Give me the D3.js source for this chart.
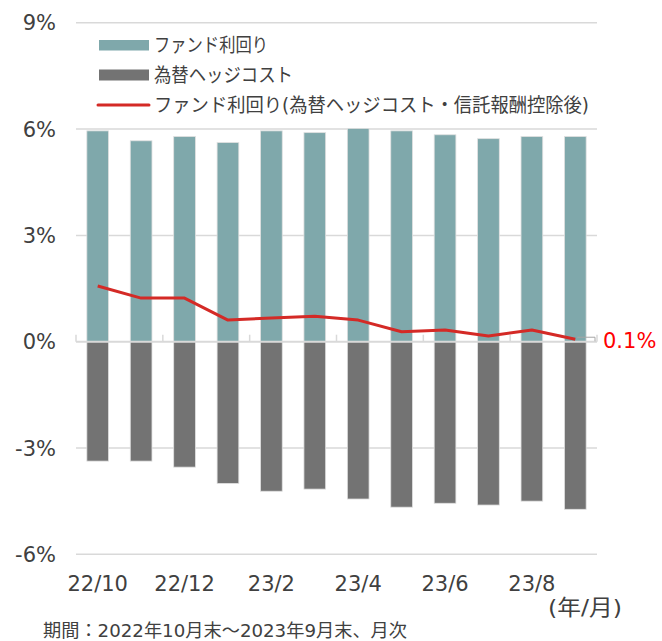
<!DOCTYPE html>
<html><head><meta charset="utf-8">
<script src="https://cdn.jsdelivr.net/npm/d3@7"></script>
<style>
html,body{margin:0;padding:0;background:#fff;}
svg{display:block;}
text{font-family:"DejaVu Sans","Noto Sans CJK JP",sans-serif;}
</style></head>
<body>
<script>
const categories = ["22/10","22/11","22/12","23/1","23/2","23/3","23/4","23/5","23/6","23/7","23/8","23/9"];
const fundYield = [5.95,5.67,5.79,5.62,5.95,5.90,6.02,5.95,5.84,5.73,5.79,5.79];
const hedgeCost = [-3.37,-3.37,-3.54,-4.00,-4.22,-4.16,-4.44,-4.67,-4.56,-4.61,-4.50,-4.73];
const netYield = [1.57,1.23,1.23,0.61,0.67,0.72,0.61,0.28,0.33,0.16,0.33,0.07];
const yTicks = [-6,-3,0,3,6,9];
const xTickLabels = ["22/10","22/12","23/2","23/4","23/6","23/8"];
const legendLabels = ["ファンド利回り","為替ヘッジコスト","ファンド利回り(為替ヘッジコスト・信託報酬控除後)"];
const lastLabel = "0.1%";
const unitLabel = "(年/月)";
const noteText = "期間：2022年10月末～2023年9月末、月次";

(function(){
const W = 662, H = 641;
const pLeft = 76, pRight = 597, pTop = 22.8, pBottom = 554.3;
const svg = d3.select("body").append("svg").attr("width", W).attr("height", H);

const x = d3.scaleBand().domain(categories).range([pLeft, pRight]).paddingInner(0.5).paddingOuter(0.25);
const y = d3.scaleLinear().domain([-6, 9]).range([pBottom, pTop]);
const textCol = "#404040", gridCol = "#d9d9d9";
const teal = "#7fa8ab", gray = "#737373", red = "#d42a26";

svg.append("g").selectAll("line").data(yTicks.filter(d => d !== 0)).join("line")
  .attr("x1", pLeft).attr("x2", pRight)
  .attr("y1", d => y(d)).attr("y2", d => y(d))
  .attr("stroke", gridCol).attr("stroke-width", 1.5);

svg.append("g").selectAll("text").data(yTicks).join("text")
  .attr("x", 56).attr("y", d => y(d)).attr("dy", "0.36em")
  .attr("text-anchor", "end").attr("font-size", 21).attr("fill", textCol)
  .text(d => d + "%");

svg.append("g").selectAll("rect").data(fundYield).join("rect")
  .attr("x", (d, i) => x(categories[i])).attr("width", x.bandwidth())
  .attr("y", d => y(d)).attr("height", d => y(0) - y(d))
  .attr("fill", teal).attr("stroke", "#e0e0e0").attr("stroke-width", 0.8);
svg.append("g").selectAll("rect").data(hedgeCost).join("rect")
  .attr("x", (d, i) => x(categories[i])).attr("width", x.bandwidth())
  .attr("y", y(0)).attr("height", d => y(d) - y(0))
  .attr("fill", gray).attr("stroke", "#e0e0e0").attr("stroke-width", 0.8);

svg.append("line").attr("x1", pLeft).attr("x2", pRight).attr("y1", y(0)).attr("y2", y(0))
  .attr("stroke", gridCol).attr("stroke-width", 2);
const step = x.step();
const tickPos = d3.range(0, 13, 2).map(i => pLeft + i * step);
svg.append("g").selectAll("line").data(tickPos).join("line")
  .attr("x1", d => d).attr("x2", d => d).attr("y1", y(0) - 7).attr("y2", y(0))
  .attr("stroke", gridCol).attr("stroke-width", 1.5);

const line = d3.line().x((d, i) => x(categories[i]) + x.bandwidth() / 2).y(d => y(d));
svg.append("path").datum(netYield).attr("d", line)
  .attr("fill", "none").attr("stroke", red).attr("stroke-width", 3).attr("stroke-linejoin", "round");

const lx = x(categories[11]) + x.bandwidth() / 2, ly = y(netYield[11]);
svg.append("path").attr("d", `M${lx + 2},${ly - 2}L${pRight - 2},${ly - 2}L${pRight - 2},${ly + 2}`)
  .attr("fill", "none").attr("stroke", "#a6a6a6").attr("stroke-width", 1);
svg.append("text").attr("x", 603).attr("y", y(0)).attr("dy", "0.3em")
  .attr("font-size", 21).attr("fill", "#ff0000").text(lastLabel);

svg.append("g").selectAll("text").data(xTickLabels).join("text")
  .attr("x", d => x(d) + x.bandwidth() / 2).attr("y", 591)
  .attr("text-anchor", "middle").attr("font-size", 21).attr("fill", textCol).text(d => d);
svg.append("text").attr("x", 548).attr("y", 615)
  .attr("font-size", 22).attr("fill", textCol)
  .attr("textLength", 74).attr("lengthAdjust", "spacingAndGlyphs").text(unitLabel);
svg.append("text").attr("x", 43).attr("y", 637)
  .attr("font-size", 18).attr("fill", textCol)
  .attr("textLength", 364).attr("lengthAdjust", "spacingAndGlyphs").text(noteText);

const lg = svg.append("g");
const rows = [45, 75, 105];
const legW = [114, 139, 435];
lg.append("rect").attr("x", 99).attr("y", rows[0] - 5).attr("width", 50).attr("height", 10.5).attr("fill", teal);
lg.append("rect").attr("x", 99).attr("y", rows[1] - 5.5).attr("width", 50).attr("height", 11).attr("fill", gray);
lg.append("line").attr("x1", 98).attr("x2", 149).attr("y1", rows[2]).attr("y2", rows[2])
  .attr("stroke", red).attr("stroke-width", 3).attr("stroke-linecap", "round");
lg.selectAll("text").data(legendLabels).join("text")
  .attr("x", 154).attr("y", (d, i) => rows[i]).attr("dy", "0.36em")
  .attr("font-size", 19).attr("fill", textCol)
  .attr("textLength", (d, i) => legW[i]).attr("lengthAdjust", "spacingAndGlyphs")
  .attr("font-family", "'Noto Sans CJK JP',sans-serif").text(d => d);
})();
</script>
</body></html>
